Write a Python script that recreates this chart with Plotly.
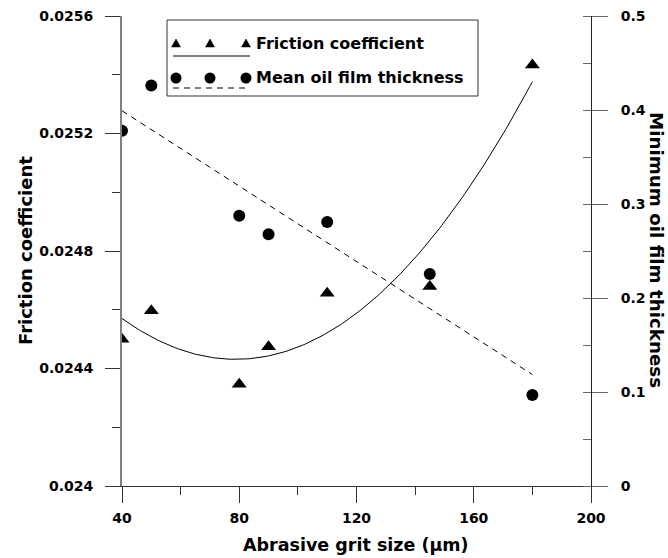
import numpy as np
import plotly.graph_objects as go

# ---- data ----
grit_size = [40, 50, 80, 90, 110, 145, 180]
friction = [0.02450, 0.024597, 0.024346, 0.024474, 0.024656, 0.024679, 0.025433]
film_thickness = [0.378, 0.426, 0.2876, 0.2677, 0.2809, 0.2255, 0.0968]

x_ticks = [40, 80, 120, 160, 200]
y1_ticks = [0.024, 0.0244, 0.0248, 0.0252, 0.0256]
y1_labels = ["0.024", "0.0244", "0.0248", "0.0252", "0.0256"]
y2_ticks = [0, 0.1, 0.2, 0.3, 0.4, 0.5]
y2_labels = ["0", "0.1", "0.2", "0.3", "0.4", "0.5"]

series_names = ["Friction coefficient", "Mean oil film thickness"]
x_title = "Abrasive grit size (µm)"
y1_title = "Friction coefficient"
y2_title = "Minimum oil film thickness"

# trend lines fitted to the data (quadratic for friction, linear for film)
xs = np.array(grit_size, dtype=float)
xfit = np.linspace(xs.min(), xs.max(), 200)
fric_fit = np.polyval(np.polyfit(xs, friction, 2), xfit)
film_fit = np.polyval(np.polyfit(xs, film_thickness, 1), xfit)

FONT = "DejaVu Sans, Verdana, sans-serif"

fig = go.Figure()
fig.add_trace(go.Scatter(x=xfit, y=fric_fit, mode="lines",
                         line=dict(color="black", width=1), yaxis="y", showlegend=False))
fig.add_trace(go.Scatter(x=xfit, y=film_fit, mode="lines",
                         line=dict(color="black", width=1, dash="6px,5px"), yaxis="y2", showlegend=False))
fig.add_trace(go.Scatter(x=grit_size, y=friction, mode="markers",
                         marker=dict(symbol="triangle-up", size=13, color="black"),
                         yaxis="y", showlegend=False))
fig.add_trace(go.Scatter(x=grit_size, y=film_thickness, mode="markers",
                         marker=dict(symbol="circle", size=12, color="black"),
                         yaxis="y2", showlegend=False))

W, H = 668, 558
L, R, T, B = 122, 591, 16, 486


def px(xp):
    """page x pixel -> paper fraction"""
    return (xp - L) / (R - L)


def py(yp):
    """page y pixel -> paper fraction"""
    return (B - yp) / (B - T)


shapes = []
# legend box
shapes.append(dict(type="rect", xref="paper", yref="paper",
                   x0=px(167), x1=px(478), y0=py(96), y1=py(20),
                   line=dict(color="#333", width=1), fillcolor="white", layer="above"))
for cx in [176, 210, 246]:
    shapes.append(dict(type="path", xref="paper", yref="paper",
                       path="M {},{} L {},{} L {},{} Z".format(
                           px(cx - 4.5), py(47), px(cx + 4.5), py(47), px(cx), py(39)),
                       fillcolor="black", line=dict(color="black", width=0.5), layer="above"))
    shapes.append(dict(type="circle", xref="paper", yref="paper",
                       x0=px(cx - 5.5), x1=px(cx + 5.5), y0=py(78 + 5.5), y1=py(78 - 5.5),
                       fillcolor="black", line=dict(color="black", width=0), layer="above"))
shapes.append(dict(type="line", xref="paper", yref="paper", x0=px(173), x1=px(250),
                   y0=py(56), y1=py(56), line=dict(color="black", width=1), layer="above"))
shapes.append(dict(type="line", xref="paper", yref="paper", x0=px(173), x1=px(250),
                   y0=py(88), y1=py(88), line=dict(color="black", width=1, dash="6px,5px"),
                   layer="above"))

annotations = [
    dict(text=series_names[0], xref="paper", yref="paper", x=px(254), y=py(43),
         xanchor="left", yanchor="middle", showarrow=False,
         font=dict(family=FONT, size=16, color="black", weight="bold")),
    dict(text=series_names[1], xref="paper", yref="paper", x=px(254), y=py(77),
         xanchor="left", yanchor="middle", showarrow=False,
         font=dict(family=FONT, size=16, color="black", weight="bold")),
    dict(text=y2_title, xref="paper", yref="paper", x=px(657), y=py(250),
         xanchor="center", yanchor="middle", textangle=90, showarrow=False,
         font=dict(family=FONT, size=18.3, color="black", weight="bold")),
    dict(text=y1_title, xref="paper", yref="paper", x=px(25), y=py(251),
         xanchor="center", yanchor="middle", textangle=-90, showarrow=False,
         font=dict(family=FONT, size=18, color="black", weight="bold")),
    dict(text=x_title, xref="paper", yref="paper", x=px(356), y=py(545),
         xanchor="center", yanchor="middle", showarrow=False,
         font=dict(family=FONT, size=17.5, color="black", weight="bold")),
]

tickfont = dict(family=FONT, size=14, color="black", weight="bold")

fig.update_layout(
    width=W, height=H,
    margin=dict(l=L, r=W - R, t=T, b=H - B, pad=0),
    paper_bgcolor="white", plot_bgcolor="white",
    showlegend=False,
    shapes=shapes, annotations=annotations,
    xaxis=dict(range=[40, 200], tickvals=x_ticks, ticks="outside", ticklen=16,
               tickcolor="#333", tickwidth=1, automargin=False, ticklabeloverflow="allow",
               minor=dict(dtick=20, tick0=40, ticks="outside", ticklen=8, tickcolor="#333"),
               showline=True, linecolor="#333", linewidth=1, showgrid=False, zeroline=False,
               tickfont=tickfont, ticklabelstandoff=3),
    yaxis=dict(range=[0.024, 0.0256], tickvals=y1_ticks, ticktext=y1_labels,
               ticks="outside", ticklen=15, tickcolor="#333", automargin=False,
               ticklabeloverflow="allow",
               minor=dict(dtick=0.0002, tick0=0.024, ticks="outside", ticklen=8, tickcolor="#333"),
               showline=True, linecolor="#808080", linewidth=2, showgrid=False, zeroline=False,
               tickfont=tickfont, ticklabelstandoff=9),
    yaxis2=dict(range=[0, 0.5], tickvals=y2_ticks, ticktext=y2_labels, overlaying="y",
                side="right", ticks="outside", ticklen=16, tickcolor="#666", automargin=False,
                ticklabeloverflow="allow",
                minor=dict(dtick=0.05, tick0=0, ticks="inside", ticklen=8, tickcolor="#666"),
                showline=True, linecolor="#222", linewidth=1, showgrid=False, zeroline=False,
                tickfont=tickfont, ticklabelstandoff=10),
)

fig.write_html("out.html", config={"displayModeBar": False},
               post_script="document.body.style.margin='0';document.body.style.overflow='hidden';")
